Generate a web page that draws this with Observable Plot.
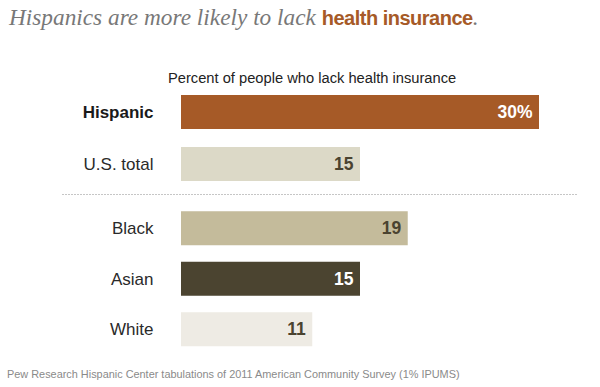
<!DOCTYPE html>
<html>
<head>
<meta charset="utf-8">
<script src="https://cdn.jsdelivr.net/npm/d3@7"></script>
<script src="https://cdn.jsdelivr.net/npm/@observablehq/plot@0.6"></script>
<style>
  html, body { margin: 0; padding: 0; background: #fff; }
  #page { position: relative; width: 600px; height: 387px; overflow: hidden; font-family: "Liberation Sans", Arial, sans-serif; }
  .abs { position: absolute; white-space: nowrap; }
  #title { left: 9px; top: 6.3px; font-size: 23.3px; line-height: 23.3px; color: #787878; font-family: "Liberation Serif", "Times New Roman", serif; font-style: italic; }
  #title b { font-family: "Liberation Sans", Arial, sans-serif; font-style: normal; font-weight: bold; color: #a65a27; font-size: 20px; letter-spacing: -0.5px; }
  #subtitle { left: 168px; top: 71px; font-size: 14.7px; line-height: 14.7px; color: #222; }
  #sep { left: 62px; top: 194px; width: 516px; height: 1px; background: repeating-linear-gradient(to right, #c6c6c6 0 2px, transparent 2px 3px); }
  #footer { left: 7px; top: 368.8px; font-size: 10.9px; line-height: 10.9px; color: #8a8a8a; }
  #plotTop { left: 0; top: 86px; }
  #plotBottom { left: 0; top: 203px; }
</style>
</head>
<body>
<div id="page">
  <div id="title" class="abs">Hispanics are more likely to lack <b>health insurance</b>.</div>
  <div id="subtitle" class="abs">Percent of people who lack health insurance</div>
  <div id="plotTop" class="abs"></div>
  <div id="sep" class="abs"></div>
  <div id="plotBottom" class="abs"></div>
  <div id="footer" class="abs">Pew Research Hispanic Center tabulations of 2011 American Community Survey (1% IPUMS)</div>
</div>
<script>
// ---- data ----
const categories = ["Hispanic", "U.S. total", "Black", "Asian", "White"];
const values = [30, 15, 19, 15, 11];
const valueLabels = ["30%", "15", "19", "15", "11"];
const sections = ["top", "top", "bottom", "bottom", "bottom"];
const xDomain = [0, 30];

// ---- styles ----
const barColors = ["#a65a27", "#dcd9c7", "#c4bb9b", "#4b4430", "#eeebe4"];
const darkBars = new Set(["Hispanic", "Asian"]);
const boldLabels = new Set(["Hispanic"]);

const rows = categories.map((c, i) => ({category: c, value: values[i], label: valueLabels[i], section: sections[i]}));

function makePlot(section, height, paddingInner) {
  const data = rows.filter(d => d.section === section);
  return Plot.plot({
    width: 600,
    height,
    marginLeft: 181,
    marginRight: 61,
    marginTop: 0,
    marginBottom: 0,
    style: {fontFamily: "'Liberation Sans', Arial, sans-serif", background: "transparent", overflow: "visible"},
    x: {domain: xDomain, axis: null},
    y: {domain: data.map(d => d.category), axis: null, paddingInner, paddingOuter: paddingInner / 2, round: false},
    color: {domain: categories, range: barColors},
    marks: [
      Plot.barX(data, {x: "value", y: "category", fill: "category"}),
      Plot.text(data, {filter: d => darkBars.has(d.category), x: "value", y: "category", text: "label", textAnchor: "end", dx: -7, fill: "#ffffff", fontWeight: "bold", fontSize: 17.5}),
      Plot.text(data, {filter: d => !darkBars.has(d.category), x: "value", y: "category", text: "label", textAnchor: "end", dx: -7, fill: "#4a4330", fontWeight: "bold", fontSize: 17.5}),
      Plot.text(data, {filter: d => boldLabels.has(d.category), x: 0, y: "category", text: "category", textAnchor: "end", dx: -28, fill: "#1a1a1a", fontWeight: "bold", fontSize: 17}),
      Plot.text(data, {filter: d => !boldLabels.has(d.category), x: 0, y: "category", text: "category", textAnchor: "end", dx: -28, fill: "#2a2a2a", fontSize: 17})
    ]
  });
}

document.getElementById("plotTop").appendChild(makePlot("top", 104, 18 / 52));
document.getElementById("plotBottom").appendChild(makePlot("bottom", 151.5, 16.5 / 50.5));
</script>
</body>
</html>
